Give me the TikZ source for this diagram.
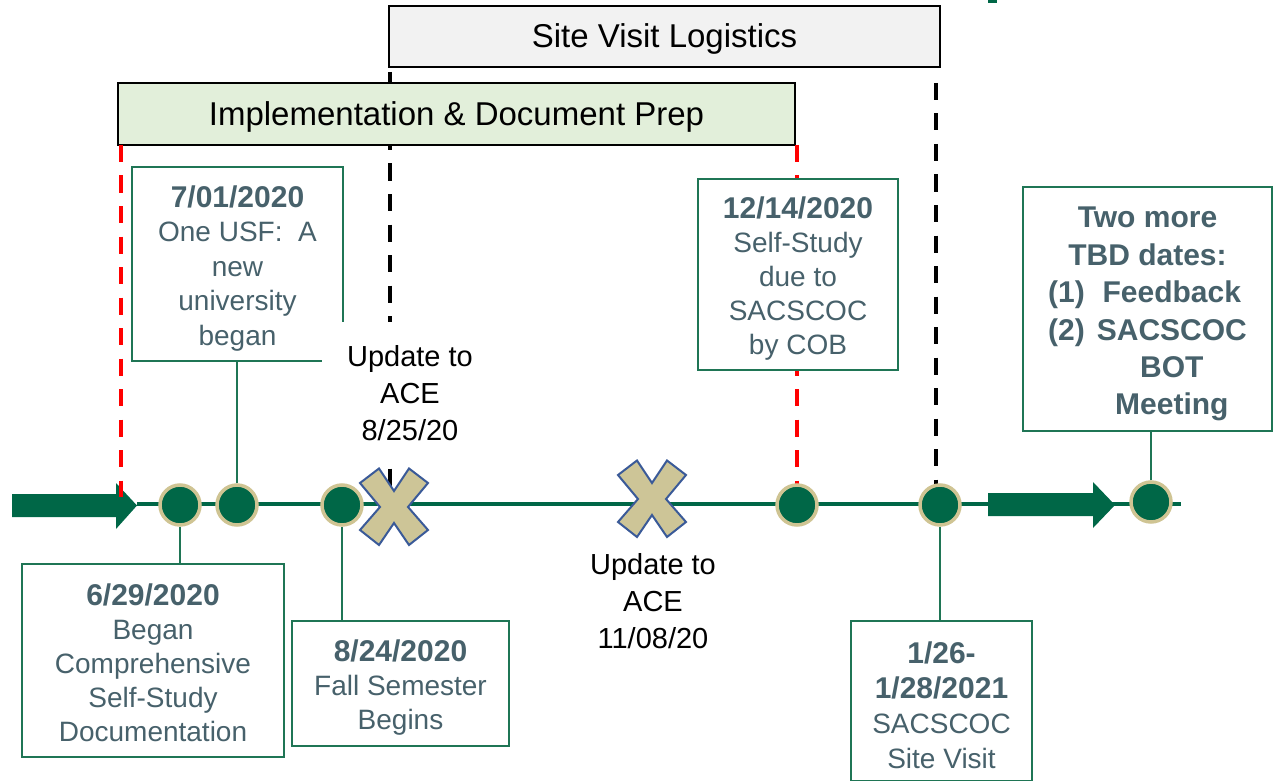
\documentclass[tikz,border=0pt]{standalone}
\usepackage{fontspec}
\setmainfont{Liberation Sans}
\usetikzlibrary{positioning,calc}

\definecolor{usfgreen}{HTML}{006747}
\definecolor{usfgold}{HTML}{CFC493}
\definecolor{boxgreen}{HTML}{1F7555}
\definecolor{slate}{HTML}{47616B}
\definecolor{xtan}{HTML}{CDC597}
\definecolor{xblue}{HTML}{3A5A98}
\definecolor{implfill}{HTML}{E2EFDA}
\definecolor{sitefill}{HTML}{F2F2F2}

\newcommand{\datefont}{\fontsize{30}{34}\selectfont\bfseries}
\newcommand{\topstrut}[1][30pt]{\rule{0pt}{#1}}

\begin{document}
\frenchspacing
\begin{tikzpicture}[x=1pt, y=-1pt,
  every node/.style={font=\fontsize{28}{34}\selectfont},
  phase/.style={draw=black, line width=2pt, minimum height=61pt, text depth=1pt, font=\fontsize{33}{40}\selectfont},
  event/.style={draw=boxgreen, line width=1.8pt, fill=white, text=slate, align=center, inner sep=0pt},
  dot/.style={circle, draw=usfgold, line width=3.5pt, fill=usfgreen, minimum size=40pt, inner sep=0pt},
  guide/.style={line width=4pt, dash pattern=on 17pt off 13.5pt},
  link/.style={draw=boxgreen, line width=2pt},
  xmark/.style={fill=xtan, draw=xblue, line width=2pt, line join=miter},
  update/.style={fill=white, align=center, inner sep=0pt, font=\fontsize{29}{37}\selectfont}]
  \useasboundingbox (0,0) rectangle (1280,781);

  % black guides of the site visit window
  \draw[guide, black] (390,72) -- (390,495);
  \draw[guide, black] (936,83) -- (936,505);

  % phase bars
  \node[phase, fill=sitefill, minimum width=551pt] (site) at (664.5,36.5) {Site Visit Logistics};
  \node[phase, fill=implfill, minimum width=677pt, minimum height=62pt] (impl) at (456.5,114) {Implementation \& Document Prep};
  \fill[usfgreen] (988,0) rectangle (997,3);

  % time axis and block arrows
  \coordinate (tstart) at (137,504);
  \coordinate (tend) at (1181,504);
  \draw[usfgreen, line width=4pt] (tstart) -- (tend);
  \fill[usfgreen] (12,494) -- (116,494) -- (116,483) -- (137,505.5) -- (116,529) -- (116,517) -- (12,517) -- cycle;
  \fill[usfgreen] (988,493) -- (1093,493) -- (1093,482) -- (1115,505) -- (1093,528) -- (1093,516) -- (988,516) -- cycle;

  % red guides of the preparation window
  \draw[guide, red] (121,145) -- (121,497);
  \draw[guide, red] (797,145) -- (797,505);

  % event boxes
  \node[event, minimum width=211pt, minimum height=194pt, font=\fontsize{28}{34.5}\selectfont] (e0701) at (237.5,264)
    {{\datefont\topstrut 7/01/2020}\\One USF:\ \ A\\new\\university\\began};
  \node[event, minimum width=262pt, minimum height=193pt] (e0629) at (153,660.5)
    {{\datefont\topstrut[26pt]6/29/2020}\\Began\\Comprehensive\\Self-Study\\Documentation};
  \node[event, minimum width=217pt, minimum height=125pt] (e0824) at (400.5,683.5)
    {{\datefont\topstrut 8/24/2020}\\Fall Semester\\Begins};
  \node[event, minimum width=200pt, minimum height=191pt] (e1214) at (798,274.5)
    {{\datefont\topstrut 12/14/2020}\\Self-Study\\due to\\SACSCOC\\by COB};
  \node[event, minimum width=181pt, minimum height=160pt, font=\fontsize{28}{35}\selectfont] (e0126) at (941.5,701)
    {{\datefont\topstrut 1/26-}\\{\datefont 1/28/2021}\\SACSCOC\\Site Visit};
  \node[event, minimum width=249pt, minimum height=244pt, font=\fontsize{30}{37.4}\selectfont\bfseries] (etbd) at (1147.5,309)
    {\topstrut[36pt]Two more\\TBD dates:\\\begin{tabular}[t]{@{}r@{\hspace{12pt}}c@{}}(1)&Feedback\\(2)&SACSCOC\\&BOT\\&Meeting\end{tabular}};

  % ACE updates
  \node[update, minimum width=176pt, minimum height=142pt] (ace1) at (410,393) {Update to\\ACE\\8/25/20};
  \node[update] (ace2) at (653,601) {Update to\\ACE\\11/08/20};

  % milestones
  \foreach \n/\x in {c1/180, c2/237, c3/342, c4/797, c5/940}
    \node[dot] (\n) at (\x,505) {};
  \node[dot] (c6) at (1151,502) {};

  % ACE markers
  \foreach \cx/\cy in {394/507, 652/499}{
    \begin{scope}[shift={(\cx,\cy)}]
      \draw[xmark] (-34,-24) -- (-15,-38.5) -- (0,-16) -- (15,-38.5) -- (34,-24) -- (14,0)
        -- (34,23) -- (15,38) -- (0,16) -- (-15,38) -- (-34,23) -- (-14,0) -- cycle;
    \end{scope}
  }

  % box links
  \draw[link] (c2) -- (c2 |- e0701.south);
  \draw[link] (c1) -- (c1 |- e0629.north);
  \draw[link] (c3) -- (c3 |- e0824.north);
  \draw[link] (c5) -- (c5 |- e0126.north);
  \draw[link] (c6) -- (c6 |- etbd.south);
\end{tikzpicture}
\end{document}
